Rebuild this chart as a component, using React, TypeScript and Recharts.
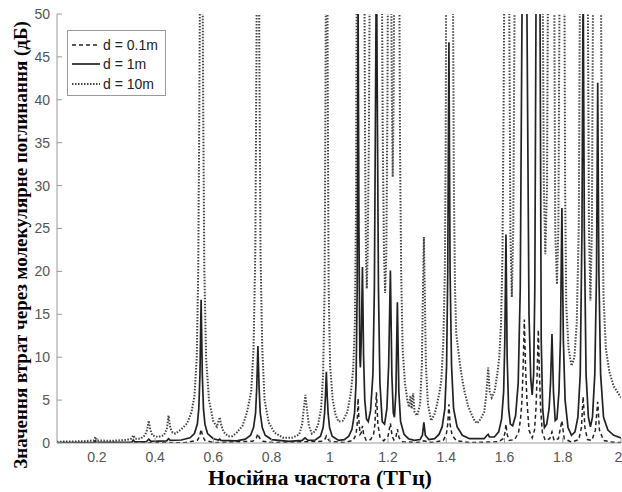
import { LineChart, Line, XAxis, YAxis } from 'recharts';

// frequency (THz), loss (dB); 60+ means the line leaves the top of the axes
const lossShort: [number, number][] = [
  [0.063, 0.02], [0.5, 0.03], [0.545, 0.3], [0.553, 0.8], [0.558, 1.6], [0.563, 0.8], [0.571, 0.3], [0.6, 0.05],
  [0.735, 0.2], [0.748, 0.6], [0.753, 1.1], [0.758, 0.6], [0.77, 0.2], [0.8, 0.05],
  [0.975, 0.2], [0.984, 0.5], [0.988, 0.8], [0.992, 0.5], [1.0, 0.2], [1.05, 0.05],
  [1.08, 0.3], [1.09, 1.0], [1.094, 2.2], [1.097, 5.2], [1.1, 2.6], [1.104, 1.0], [1.108, 1.2], [1.112, 2.0],
  [1.116, 1.0], [1.125, 0.3], [1.14, 0.4], [1.15, 1.0], [1.155, 2.2], [1.16, 5.9], [1.165, 2.2], [1.172, 0.7],
  [1.185, 0.25], [1.2, 0.8], [1.208, 2.3], [1.214, 0.8], [1.22, 0.35], [1.227, 0.7], [1.232, 1.6], [1.238, 0.6],
  [1.25, 0.15], [1.3, 0.05], [1.323, 0.25], [1.35, 0.05], [1.39, 0.3], [1.4, 1.0], [1.405, 2.2], [1.409, 4.5],
  [1.413, 2.2], [1.42, 0.9], [1.435, 0.25], [1.48, 0.05], [1.58, 0.15], [1.595, 0.5], [1.601, 1.1], [1.605, 2.2],
  [1.609, 1.0], [1.616, 0.3], [1.635, 0.4], [1.648, 1.2], [1.655, 2.8], [1.66, 5], [1.664, 9], [1.668, 14.4],
  [1.672, 9], [1.677, 5], [1.684, 1.5], [1.695, 0.6], [1.703, 1.5], [1.708, 4], [1.712, 8], [1.716, 13.2],
  [1.72, 8], [1.724, 4], [1.73, 1.2], [1.74, 0.3], [1.755, 0.5], [1.763, 1.3], [1.77, 0.3], [1.785, 0.5],
  [1.797, 2.6], [1.805, 0.5], [1.83, 0.1], [1.855, 0.4], [1.864, 1.8], [1.87, 5.4], [1.876, 1.8], [1.885, 0.4],
  [1.9, 0.3], [1.912, 1.5], [1.92, 4.8], [1.926, 1.5], [1.94, 0.3], [1.97, 0.1], [2.0, 0.05],
];

const lossMid: [number, number][] = [
  [0.063, 0.05], [0.19, 0.08], [0.195, 0.25], [0.2, 0.08], [0.32, 0.1], [0.325, 0.35], [0.33, 0.12],
  [0.37, 0.15], [0.378, 0.45], [0.386, 0.2], [0.44, 0.25], [0.446, 0.5], [0.452, 0.3], [0.49, 0.35],
  [0.52, 0.6], [0.535, 1.1], [0.545, 2.2], [0.55, 4], [0.554, 8], [0.558, 16.7], [0.562, 8], [0.566, 4],
  [0.571, 2.2], [0.58, 1.1], [0.6, 0.5], [0.618, 0.35], [0.622, 0.45], [0.626, 0.3], [0.68, 0.25],
  [0.71, 0.45], [0.728, 0.9], [0.738, 1.8], [0.745, 3.5], [0.749, 6.5], [0.753, 11.3], [0.757, 6.5],
  [0.761, 3.5], [0.768, 1.8], [0.778, 0.9], [0.8, 0.4], [0.86, 0.2], [0.905, 0.3], [0.915, 0.6], [0.925, 0.3],
  [0.95, 0.35], [0.968, 0.8], [0.977, 1.8], [0.982, 3.5], [0.985, 5.5], [0.988, 8.3], [0.991, 5.5],
  [0.994, 3.5], [0.999, 1.8], [1.008, 0.8], [1.03, 0.3], [1.05, 0.4], [1.065, 0.8], [1.076, 1.6],
  [1.085, 3.5], [1.09, 7], [1.094, 18], [1.097, 52], [1.1, 25], [1.103, 10], [1.105, 8.8], [1.108, 12],
  [1.112, 20.5], [1.116, 10], [1.12, 5], [1.126, 2.8], [1.132, 2.5], [1.14, 3.8], [1.148, 8], [1.153, 18],
  [1.157, 40], [1.16, 58], [1.163, 40], [1.167, 18], [1.172, 7], [1.18, 2.5], [1.188, 2.2], [1.196, 4],
  [1.202, 9], [1.208, 20.1], [1.213, 8], [1.218, 3.5], [1.222, 3], [1.227, 6], [1.232, 16.4], [1.237, 6],
  [1.243, 2.5], [1.255, 1.0], [1.27, 0.5], [1.29, 0.3], [1.31, 0.4], [1.318, 0.9], [1.323, 2.4], [1.328, 0.9],
  [1.34, 0.4], [1.36, 0.5], [1.375, 1.0], [1.386, 1.9], [1.395, 4], [1.401, 9], [1.405, 20], [1.409, 46.7],
  [1.413, 20], [1.418, 9], [1.425, 4], [1.437, 1.9], [1.455, 0.9], [1.48, 0.5], [1.53, 0.5], [1.54, 0.9],
  [1.544, 1.0], [1.548, 0.7], [1.565, 0.7], [1.58, 1.3], [1.59, 2.8], [1.597, 6], [1.601, 12], [1.605, 24.3],
  [1.609, 10], [1.614, 4], [1.62, 2.2], [1.628, 2.0], [1.638, 3.2], [1.647, 7], [1.654, 18], [1.66, 50],
  [1.668, 100], [1.677, 50], [1.684, 15], [1.69, 7.5], [1.695, 5.6], [1.7, 8], [1.704, 18], [1.708, 50],
  [1.716, 90], [1.722, 50], [1.726, 12], [1.731, 4], [1.737, 1.8], [1.745, 2.2], [1.753, 4], [1.758, 7],
  [1.763, 12.7], [1.768, 6], [1.774, 2.6], [1.78, 2.8], [1.787, 6], [1.792, 12], [1.797, 27.4], [1.802, 12],
  [1.808, 5], [1.818, 1.8], [1.83, 0.9], [1.842, 1.3], [1.852, 3], [1.86, 8], [1.866, 25], [1.87, 55],
  [1.874, 25], [1.88, 8], [1.888, 3], [1.895, 1.9], [1.902, 3], [1.91, 8], [1.916, 20], [1.92, 42],
  [1.924, 20], [1.93, 8], [1.94, 3], [1.955, 1.5], [1.975, 0.9], [2.0, 0.6],
];

const lossLong: [number, number][] = [
  [0.063, 0.15], [0.15, 0.2], [0.19, 0.3], [0.195, 0.7], [0.2, 0.3], [0.25, 0.25], [0.3, 0.35], [0.318, 0.5],
  [0.325, 0.9], [0.332, 0.5], [0.35, 0.5], [0.365, 0.9], [0.373, 1.6], [0.378, 2.6], [0.383, 1.6], [0.39, 0.9],
  [0.41, 0.7], [0.43, 0.9], [0.44, 1.6], [0.446, 3.2], [0.452, 1.8], [0.46, 1.2], [0.47, 1.1], [0.49, 1.6],
  [0.51, 2.3], [0.525, 3.6], [0.535, 5.5], [0.543, 10], [0.548, 20], [0.552, 40], [0.555, 60], [0.562, 60],
  [0.565, 40], [0.569, 20], [0.575, 10], [0.585, 5], [0.6, 2.5], [0.612, 1.9], [0.618, 2.6], [0.622, 3.0],
  [0.626, 2.2], [0.635, 1.3], [0.65, 0.8], [0.665, 0.8], [0.68, 1.2], [0.7, 2.0], [0.715, 3.5], [0.73, 6],
  [0.738, 11], [0.744, 22], [0.748, 45], [0.75, 60], [0.756, 60], [0.758, 45], [0.762, 22], [0.768, 11],
  [0.776, 5], [0.79, 2.4], [0.81, 1.2], [0.84, 0.6], [0.87, 0.6], [0.895, 1.0], [0.905, 2.2], [0.912, 4.4],
  [0.916, 5.6], [0.92, 4.4], [0.928, 2.0], [0.938, 1.1], [0.95, 1.4], [0.96, 2.2], [0.97, 4], [0.977, 8],
  [0.982, 18], [0.985, 40], [0.987, 60], [0.991, 60], [0.993, 40], [0.996, 18], [1.001, 9], [1.01, 5],
  [1.02, 3.2], [1.03, 2.5], [1.045, 2.6], [1.06, 3.6], [1.072, 5.8], [1.08, 8.5], [1.086, 14], [1.09, 28],
  [1.093, 60], [1.118, 60], [1.121, 35], [1.124, 22], [1.127, 18], [1.13, 22], [1.134, 35], [1.138, 60],
  [1.178, 60], [1.182, 35], [1.186, 22], [1.19, 17.5], [1.194, 22], [1.198, 40], [1.2, 60], [1.21, 60],
  [1.213, 40], [1.216, 31], [1.219, 40], [1.222, 60], [1.238, 60], [1.241, 35], [1.245, 20], [1.25, 11],
  [1.258, 7], [1.266, 5], [1.272, 4.2], [1.277, 5.5], [1.281, 4.0], [1.286, 5.8], [1.291, 3.6], [1.3, 3.2],
  [1.31, 4.5], [1.316, 9], [1.32, 18], [1.323, 24], [1.326, 18], [1.33, 9], [1.337, 4.5], [1.348, 2.6],
  [1.36, 3.4], [1.366, 4.2], [1.376, 5.8], [1.383, 7.3], [1.39, 12], [1.395, 20], [1.398, 35], [1.4, 60],
  [1.422, 60], [1.426, 30], [1.43, 18], [1.434, 12.8], [1.445, 9.7], [1.452, 8], [1.462, 6.1], [1.475, 4.3],
  [1.486, 3.4], [1.497, 2.6], [1.506, 2.3], [1.518, 2.8], [1.53, 3.6], [1.537, 5.5], [1.544, 8.8], [1.549, 6.0],
  [1.556, 5.3], [1.566, 6.0], [1.575, 8], [1.582, 10], [1.588, 14], [1.593, 22], [1.597, 40], [1.6, 60],
  [1.615, 60], [1.62, 25], [1.625, 17], [1.63, 25], [1.636, 60], [1.73, 60], [1.735, 30], [1.74, 22],
  [1.746, 30], [1.75, 60], [1.77, 60], [1.774, 25], [1.78, 18.5], [1.785, 25], [1.79, 60], [1.805, 60],
  [1.808, 30], [1.812, 16], [1.82, 11], [1.83, 9], [1.84, 10], [1.848, 14], [1.855, 25], [1.86, 60],
  [1.885, 60], [1.89, 25], [1.895, 16.6], [1.9, 25], [1.905, 60], [1.93, 60], [1.935, 30], [1.94, 17],
  [1.948, 11], [1.96, 8.3], [1.975, 6.6], [2.0, 5.3],
];

const xTicks = [0.2, 0.4, 0.6, 0.8, 1, 1.2, 1.4, 1.6, 1.8, 2];
const yTicks = [0, 5, 10, 15, 20, 25, 30, 35, 40, 45, 50];

const toRows = (pts: [number, number][]) => pts.map(([f, v]) => ({ f, v }));

const series = [
  { name: 'd = 0.1m', data: toRows(lossShort), color: '#222', width: 1.5, dash: '4 3' },
  { name: 'd = 1m', data: toRows(lossMid), color: '#222', width: 1.7, dash: undefined },
  { name: 'd = 10m', data: toRows(lossLong), color: '#444', width: 2, dash: '1.5 1.5' },
];

const sans = '"Liberation Sans", Arial, sans-serif';
const serif = '"Liberation Serif", "Times New Roman", serif';
const tickFont = { fontSize: 14, fill: '#555', fontFamily: sans };
const axisGray = '#999';

function LegendBox() {
  return (
    <div style={{ position: 'absolute', left: 67, top: 30, background: '#fff', border: '1px solid #999', width: 99, height: 66, boxSizing: 'border-box', padding: '4px 0 0 4px', fontFamily: sans, fontSize: 14, color: '#222' }}>
      {series.map((s) => (
        <div key={s.name} style={{ display: 'flex', alignItems: 'center', height: 19.5 }}>
          <svg width={28} height={10} style={{ marginRight: 3 }}>
            <line x1={0} y1={5} x2={28} y2={5} stroke={s.color} strokeWidth={s.width} strokeDasharray={s.dash} />
          </svg>
          <span>{s.name}</span>
        </div>
      ))}
    </div>
  );
}

export default function App() {
  return (
    <div style={{ position: 'absolute', left: 0, top: 0, width: 622, height: 492, background: '#fff', overflow: 'hidden' }}>
      <LineChart width={622} height={492} margin={{ top: 14, right: 1, bottom: 19, left: 7 }}>
        <XAxis
          dataKey="f"
          type="number"
          domain={[0.063, 2]}
          ticks={xTicks}
          allowDataOverflow
          stroke={axisGray}
          tickSize={-5}
          tickMargin={14}
          tick={tickFont}
          height={30}
        />
        <XAxis
          xAxisId="top"
          orientation="top"
          type="number"
          domain={[0.063, 2]}
          ticks={xTicks}
          stroke={axisGray}
          tickSize={-5}
          tickFormatter={() => ''}
          height={0}
        />
        <YAxis
          type="number"
          domain={[0, 50]}
          ticks={yTicks}
          allowDataOverflow
          stroke={axisGray}
          tickSize={-5}
          tickMargin={12}
          tick={tickFont}
          width={50}
        />
        <YAxis
          yAxisId="right"
          orientation="right"
          type="number"
          domain={[0, 50]}
          ticks={yTicks}
          stroke={axisGray}
          tickSize={-5}
          tickFormatter={() => ''}
          width={0}
        />
        {[series[2], series[1], series[0]].map((s) => (
          <Line
            key={s.name}
            data={s.data}
            dataKey="v"
            name={s.name}
            type="linear"
            stroke={s.color}
            strokeWidth={s.width}
            strokeDasharray={s.dash}
            dot={false}
            activeDot={false}
            isAnimationActive={false}
          />
        ))}
      </LineChart>
      <LegendBox />
      <div style={{ position: 'absolute', left: 320, top: 478, transform: 'translate(-50%, -50%)', whiteSpace: 'nowrap', fontFamily: serif, fontWeight: 'bold', fontSize: 22, color: '#000' }}>
        Носійна частота (ТГц)
      </div>
      <div style={{ position: 'absolute', left: 21, top: 245, transform: 'translate(-50%, -50%) rotate(-90deg)', whiteSpace: 'nowrap', fontFamily: serif, fontWeight: 'bold', fontSize: 19, color: '#000' }}>
        Значення втрат через молекулярне поглинання (дБ)
      </div>
    </div>
  );
}
